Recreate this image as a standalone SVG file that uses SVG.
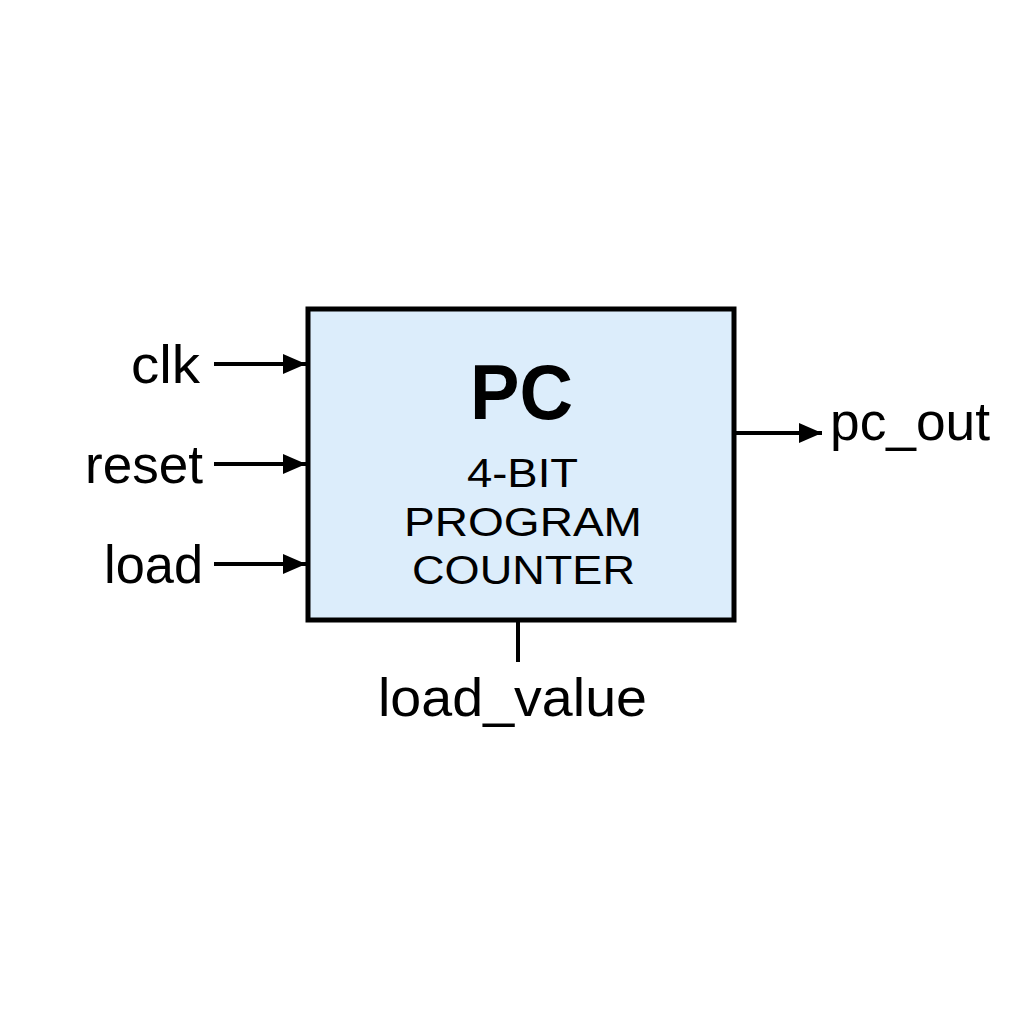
<svg xmlns="http://www.w3.org/2000/svg" width="1024" height="1024" viewBox="0 0 1024 1024">
<style>
.lbl{font-family:"Liberation Sans",Arial,sans-serif;font-size:53px;fill:#000}
.sub{font-family:"Liberation Sans",Arial,sans-serif;font-size:41px;fill:#000}
.wire{stroke:#000;stroke-width:4;fill:none}
</style>
<defs>
<marker id="arr" viewBox="0 0 23 20" refX="23" refY="10" markerWidth="23" markerHeight="20" markerUnits="userSpaceOnUse" orient="auto">
<path d="M0,0 L23,10 L0,20 Z" fill="#000"/>
</marker>
</defs>
<rect width="1024" height="1024" fill="#fff"/>
<g id="pc">
<rect x="308" y="309" width="426" height="311" fill="#dcedfb" stroke="#000" stroke-width="5"/>
<text x="470" y="419" font-family="Liberation Sans,Arial,sans-serif" font-size="77" font-weight="bold" textLength="103" lengthAdjust="spacingAndGlyphs">PC</text>
<text class="sub" x="467" y="487" textLength="111" lengthAdjust="spacingAndGlyphs">4-BIT</text>
<text class="sub" x="404" y="536" textLength="238" lengthAdjust="spacingAndGlyphs">PROGRAM</text>
<text class="sub" x="412" y="584" textLength="223" lengthAdjust="spacingAndGlyphs">COUNTER</text>
</g>
<g id="connectors">
<line class="wire" x1="214" y1="364" x2="306" y2="364" marker-end="url(#arr)"/>
<line class="wire" x1="214" y1="464" x2="306" y2="464" marker-end="url(#arr)"/>
<line class="wire" x1="214" y1="564" x2="306" y2="564" marker-end="url(#arr)"/>
<line class="wire" x1="736" y1="433" x2="822" y2="433" marker-end="url(#arr)"/>
<line class="wire" x1="518" y1="621" x2="518" y2="662"/>
</g>
<g id="clk"><text class="lbl" x="131" y="383" textLength="69" lengthAdjust="spacingAndGlyphs">clk</text></g>
<g id="reset"><text class="lbl" x="85" y="483" textLength="118" lengthAdjust="spacingAndGlyphs">reset</text></g>
<g id="load"><text class="lbl" x="104" y="583" textLength="99" lengthAdjust="spacingAndGlyphs">load</text></g>
<g id="pc_out"><text class="lbl" x="830" y="440" textLength="160" lengthAdjust="spacingAndGlyphs">pc_out</text></g>
<g id="load_value"><text class="lbl" x="378" y="716" textLength="269" lengthAdjust="spacingAndGlyphs">load_value</text></g>
</svg>
